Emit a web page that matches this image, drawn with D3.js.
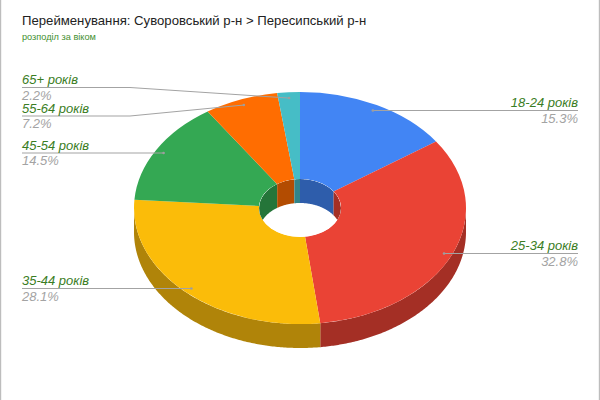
<!DOCTYPE html>
<html><head><meta charset="utf-8">
<script src="https://cdn.jsdelivr.net/npm/d3@7"></script>
<style>html,body{margin:0;padding:0;background:#fff}svg{display:block}text{font-family:"Liberation Sans",Arial,sans-serif}</style>
</head><body><svg id="c" width="600" height="400"></svg>
<script>
const titleText = "Перейменування: Суворовський р-н > Пересипський р-н";
const subtitleText = "розподіл за віком";
const categories = ["18-24 років","25-34 років","35-44 років","45-54 років","55-64 років","65+ років"];
const percents = [15.3,32.8,28.1,14.5,7.2,2.2];
const percentLabels = ["15.3%","32.8%","28.1%","14.5%","7.2%","2.2%"];
const colors = ["#4285f4","#ea4335","#fbbc09","#34a853","#ff6d01","#46bdc6"];
const sideColors = ["#2e5dab","#a42f25","#b08409","#247539","#b34c01","#318489"];
const labelSide = ["end","end","start","start","start","start"];
const labelLineY = [110.5,253.5,288.5,153,116,87.5];
const labelEdgeX = [578,578,22,22,22,22];

const svg = d3.select("#c");
const cx=300, cy=208, rx=166, ry=116, hrx=41, hry=29, depth=24;
const TAU=2*Math.PI;

const arcs = d3.pie().sort(null).value(d=>d)(percents);
const px=(a,r)=>r*Math.sin(a), py=(a,r)=>-r*Math.cos(a);

// frame
svg.append("rect").attr("x",0).attr("y",0).attr("width",1.2).attr("height",400).attr("fill","#bdbdbd");
svg.append("rect").attr("x",598.8).attr("y",0).attr("width",1.2).attr("height",400).attr("fill","#bdbdbd");

const g = svg.append("g").attr("transform",`translate(${cx},${cy})`);

// extruded band along an elliptical arc, clipped to an angle window
function band(a0,a1,erx,ery){
  const n=Math.max(2,Math.ceil((a1-a0)/0.01));
  const as=d3.range(n+1).map(i=>a0+(a1-a0)*i/n);
  return d3.area().x(a=>px(a,erx)).y0(a=>py(a,ery)).y1(a=>py(a,ery)+depth)(as);
}
function clipRange(d,lo,hi){
  const a=Math.max(d.startAngle,lo), b=Math.min(d.endAngle,hi);
  return b>a?[a,b]:null;
}
// outer wall (front half)
arcs.forEach((d,i)=>{
  const r=clipRange(d,TAU/4,3*TAU/4);
  if(r) g.append("path").attr("d",band(r[0],r[1],rx,ry)).attr("fill",sideColors[i]);
});
// top face
const arcGen=d3.arc().innerRadius(hrx).outerRadius(rx);
g.selectAll("path.top").data(arcs).join("path").attr("class","top")
 .attr("transform",`scale(1,${ry/rx})`)
 .attr("d",arcGen).attr("fill",(d,i)=>colors[i]);

// hole
svg.append("defs").append("clipPath").attr("id","hole").append("ellipse")
 .attr("cx",0).attr("cy",0).attr("rx",hrx).attr("ry",hry);
const hole=g.append("g").attr("clip-path","url(#hole)");
hole.append("ellipse").attr("rx",hrx+1).attr("ry",hry+1).attr("fill","#fff");
arcs.forEach((d,i)=>{
  [[0,TAU/4],[3*TAU/4,TAU]].forEach(w=>{
    const r=clipRange(d,w[0],w[1]);
    if(r) hole.append("path").attr("d",band(r[0],r[1],hrx,hry)).attr("fill",sideColors[i]);
  });
});

// leader lines and labels
arcs.forEach((d,i)=>{
  const mid=(d.startAngle+d.endAngle)/2;
  const dotX=cx+px(mid,rx*0.95), dotY=cy+py(mid,ry*0.95);
  const edge=labelEdgeX[i], ly=labelLineY[i];
  const pts = Math.abs(dotY-ly)>1
    ? [[dotX,dotY],[130,ly],[edge,ly]]
    : [[dotX,ly],[edge,ly]];
  svg.append("path").attr("d",d3.line()(pts)).attr("fill","none").attr("stroke","#a3a3a3").attr("stroke-width",1);
  svg.append("circle").attr("cx",dotX).attr("cy",pts[0][1]).attr("r",1.3).attr("fill","#9e9e9e");
  svg.append("text").attr("x",edge).attr("y",ly-3.4).attr("text-anchor",labelSide[i])
    .attr("font-size",13).attr("font-style","italic").attr("fill","#3a7d24").text(categories[i]);
  svg.append("text").attr("x",edge).attr("y",ly+12).attr("text-anchor",labelSide[i])
    .attr("font-size",13).attr("font-style","italic").attr("fill","#a3a3a3").text(percentLabels[i]);
});

svg.append("text").attr("x",22).attr("y",25).attr("font-size",13.17).attr("fill","#222").text(titleText);
svg.append("text").attr("x",22).attr("y",40).attr("font-size",9.2).attr("fill","#3f8f2f").text(subtitleText);
</script></body></html>
